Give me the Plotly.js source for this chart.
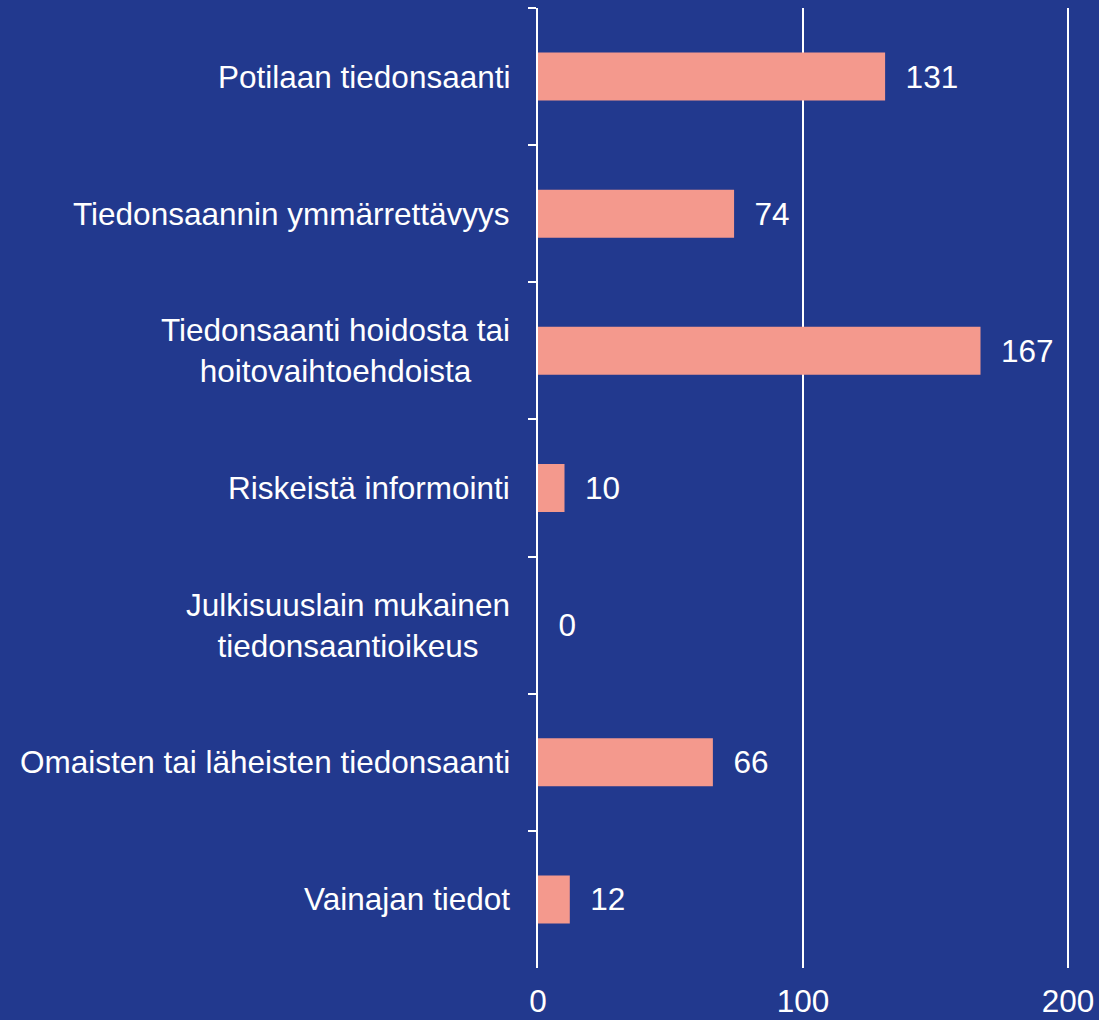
<!DOCTYPE html>
<html>
<head>
<meta charset="utf-8">
<script src="https://cdn.plot.ly/plotly-3.0.1.min.js"></script>
<style>
  html, body { margin: 0; padding: 0; background: #22398e; }
  #chart { width: 1099px; height: 1020px; }
</style>
</head>
<body>
<div id="chart"></div>
<script>
var categories = [
    'Potilaan tiedonsaanti',
    'Tiedonsaannin ymmärrettävyys',
    'Tiedonsaanti hoidosta tai<br>hoitovaihtoehdoista',
    'Riskeistä informointi',
    'Julkisuuslain mukainen<br>tiedonsaantioikeus',
    'Omaisten tai läheisten tiedonsaanti',
    'Vainajan tiedot'
];
var values = [131, 74, 167, 10, 0, 66, 12];
var xTicks = [0, 100, 200];

var bg = '#22398e';
var fontFam = 'Arial, "Liberation Sans", sans-serif';
var fs = 31.5;

var trace1 = {
    type: 'bar',
    orientation: 'h',
    x: values,
    y: categories,
    marker: { color: '#f4998d' },
    text: values.map(function (v) { return '\u00a0\u00a0' + v; }),
    textposition: 'outside',
    constraintext: 'none',
    cliponaxis: false,
    textfont: { color: '#ffffff', size: fs, family: fontFam },
    hoverinfo: 'none'
};

// category labels as annotations so two-line labels stay centred
var labels = categories.map(function (c) {
    return {
        xref: 'paper', x: 0,
        yref: 'y', y: c,
        text: c,
        showarrow: false,
        xanchor: 'right',
        xshift: -26,
        align: 'center',
        font: { color: '#ffffff', size: fs, family: fontFam }
    };
});

var layout = {
    width: 1099,
    height: 1020,
    paper_bgcolor: bg,
    plot_bgcolor: bg,
    margin: { l: 538, r: 30, t: 8, b: 52 },
    bargap: 0.65,
    showlegend: false,
    font: { family: fontFam, color: '#ffffff', size: fs },
    xaxis: {
        range: [0, 200.4],
        tickvals: xTicks,
        ticks: 'outside',
        ticklen: 5,
        tickcolor: 'rgba(0,0,0,0)',
        showgrid: true,
        gridcolor: '#ffffff',
        gridwidth: 2,
        zeroline: false,
        showline: false,
        tickfont: { color: '#ffffff', size: fs, family: fontFam },
        fixedrange: true
    },
    yaxis: {
        autorange: 'reversed',
        showticklabels: false,
        ticks: 'outside',
        tickson: 'boundaries',
        ticklen: 8,
        tickwidth: 2,
        tickcolor: '#ffffff',
        showline: true,
        linecolor: '#ffffff',
        linewidth: 2,
        showgrid: false,
        zeroline: false,
        fixedrange: true
    },
    annotations: labels
};

Plotly.newPlot('chart', [trace1], layout, { displayModeBar: false, staticPlot: true });
</script>
</body>
</html>
